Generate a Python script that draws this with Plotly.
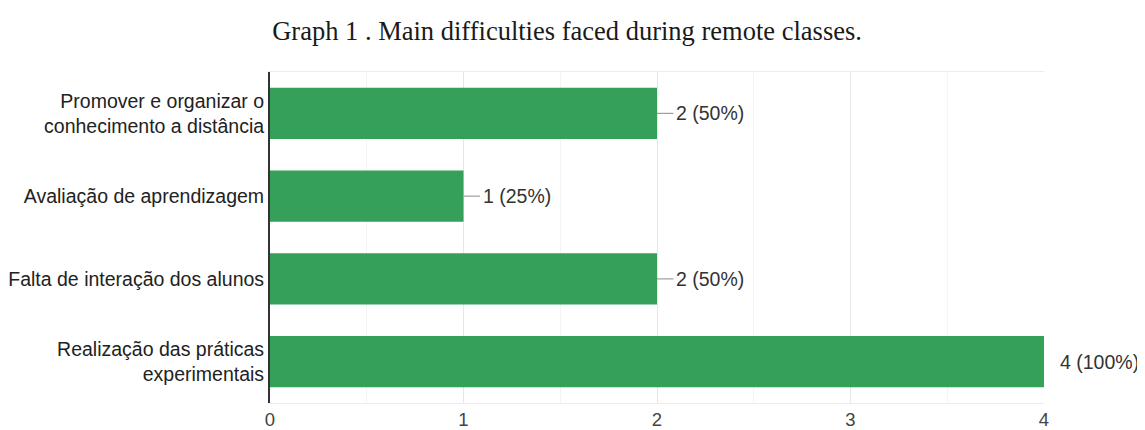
import plotly.graph_objects as go

categories = ["Promover e organizar o<br>conhecimento a distância",
              "Avaliação de aprendizagem",
              "Falta de interação dos alunos",
              "Realização das práticas<br>experimentais"]
values = [2, 1, 2, 4]
percents = [50, 25, 50, 100]
x_ticks = [0, 1, 2, 3, 4]
max_val = 4

labels = [f"{v} ({p}%)" for v, p in zip(values, percents)]

fig = go.Figure()
fig.add_trace(go.Bar(
    y=categories, x=values, orientation="h",
    marker=dict(color="#35a05a", line=dict(width=0)),
    width=0.62, hoverinfo="skip", showlegend=False,
))

# leader lines
for c, v in zip(categories, values):
    if v < max_val:
        fig.add_trace(go.Scatter(
            x=[v, v + 0.085], y=[c, c], mode="lines",
            line=dict(color="#9e9e9e", width=1.2),
            hoverinfo="skip", showlegend=False,
        ))

# value labels as annotations anchored at the bar end, shifted in pixels
for c, v, t in zip(categories, values, labels):
    fig.add_annotation(
        x=v, y=c, xref="x", yref="y",
        xshift=(17 if v < max_val else 14),
        text=t, showarrow=False, xanchor="left", yanchor="middle",
        font=dict(family="Liberation Sans, Arial, sans-serif", size=19.5, color="#333333"),
    )

fig.update_layout(
    width=1137, height=422,
    margin=dict(l=262, r=101, t=64, b=27),
    paper_bgcolor="white", plot_bgcolor="white",
    title=dict(text="Graph 1 . Main difficulties faced during remote classes.",
               x=0.4917, xanchor="center", y=0.9455, yanchor="middle",
               xref="container", yref="container",
               font=dict(family="Liberation Serif, Times New Roman, serif", size=26.5, color="#1a1a1a")),
    font=dict(family="Liberation Sans, Arial, sans-serif", size=19.5, color="#222222"),
    bargap=0.38,
)
fig.update_xaxes(
    range=[0, 4], tickvals=x_ticks, ticktext=[str(t) for t in x_ticks],
    showgrid=True, gridcolor="#e6e6e6", gridwidth=1,
    minor=dict(dtick=0.5, showgrid=True, gridcolor="#f4f4f4", gridwidth=1),
    showline=True, linecolor="#ececec", linewidth=1, mirror=True,
    ticks="", tickfont=dict(size=18.5, color="#444444"), zeroline=False,
    automargin=False,
)
fig.update_yaxes(
    categoryorder="array", categoryarray=categories[::-1],
    range=[-0.5, 3.5], autorange=False,
    showline=True, linecolor="#333333", linewidth=2,
    ticks="", showgrid=False, automargin=False,
    tickfont=dict(size=19.5, color="#222222"),
)

fig.write_html("out.html")
